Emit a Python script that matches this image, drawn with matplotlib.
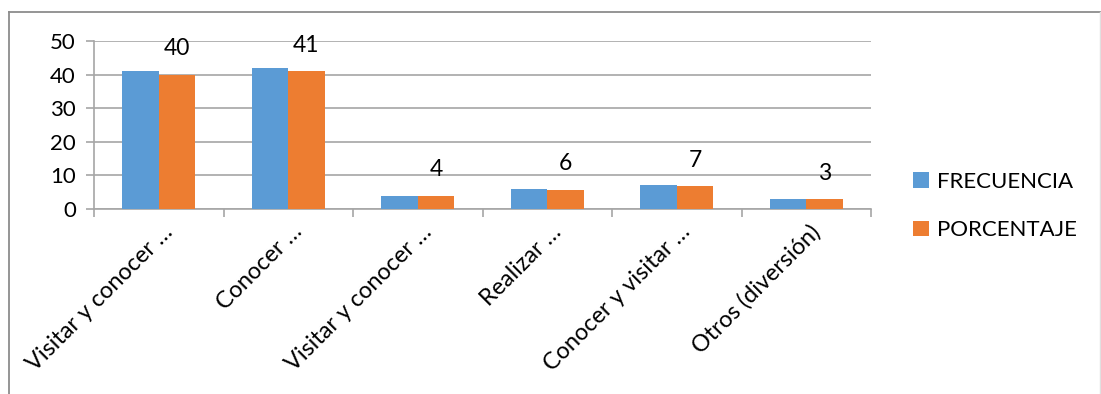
import numpy as np
import matplotlib
matplotlib.use('Agg')
import matplotlib.pyplot as plt
import matplotlib.transforms as mtransforms
from matplotlib.lines import Line2D

plt.rcParams['font.family'] = ['Lato', 'DejaVu Sans']

categories = ['Visitar y conocer …', 'Conocer …', 'Visitar y conocer …',
              'Realizar …', 'Conocer y visitar …', 'Otros (diversión)']
frecuencia = [41, 42, 4, 6, 7, 3]
porcentaje = [40, 41, 4, 5.8, 6.8, 3]
pct_labels = ['40', '41', '4', '6', '7', '3']

BLUE, ORANGE, GRID = '#5b9bd5', '#ed7d31', '#a6a6a6'
FS = 16

fig = plt.figure(figsize=(11.01, 3.94), dpi=100, facecolor='white')
ax = fig.add_axes([94 / 1101, 1 - 209 / 394, (871 - 94) / 1101, (209 - 41) / 394])

x = np.arange(len(categories))
w = 0.28
ax.bar(x - w / 2, frecuencia, w, color=BLUE, label='FRECUENCIA', zorder=3)
b2 = ax.bar(x + w / 2, porcentaje, w, color=ORANGE, label='PORCENTAJE', zorder=3)
for b, t in zip(b2, pct_labels):
    ax.annotate(t, (b.get_x() + b.get_width() / 2, b.get_height()),
                xytext=(0, 11), textcoords='offset points',
                ha='center', va='bottom', fontsize=16.5, color='black')

ax.set_xlim(-0.5, len(categories) - 0.5)
ax.set_ylim(0, 50)
ax.set_yticks(range(0, 51, 10))
ax.yaxis.grid(True, color=GRID, lw=1.2, zorder=0)
ax.set_axisbelow(True)
ax.set_xticks(np.arange(-0.5, len(categories), 1))
ax.set_xticklabels([])

# category labels, rotated 45 deg, baseline end anchored below each group
off = mtransforms.ScaledTranslation(15 / 100, -24 / 100, fig.dpi_scale_trans)
for xi, cat in zip(x, categories):
    ax.text(xi, 0, cat, transform=ax.get_xaxis_transform() + off,
            rotation=45, rotation_mode='anchor', ha='right', va='baseline',
            fontsize=16.8, clip_on=False)

ax.tick_params(axis='x', length=6, color=GRID, width=1.2)
ax.tick_params(axis='y', length=6, color=GRID, width=1.2, labelsize=FS, pad=7)
for s in ['top', 'right']:
    ax.spines[s].set_visible(False)
for s in ['left', 'bottom']:
    ax.spines[s].set_color(GRID)
    ax.spines[s].set_linewidth(1.2)

h, l = ax.get_legend_handles_labels()
fig.legend(h, l, loc='center left', bbox_to_anchor=(893 / 1101, 1 - 206 / 394),
           frameon=False, fontsize=FS, handlelength=0.7, handleheight=0.7,
           handletextpad=0.4, labelspacing=1.3)

# outer chart-area border
fig.add_artist(Line2D([9 / 1101, 1], [1 - 11.5 / 394] * 2, color='#8c8c8c', lw=1.3,
                      transform=fig.transFigure))
fig.add_artist(Line2D([9 / 1101] * 2, [0, 1 - 11.5 / 394], color='#8c8c8c', lw=1.3,
                      transform=fig.transFigure))
fig.add_artist(Line2D([1100 / 1101] * 2, [0, 1 - 11.5 / 394], color='#e0e0e0', lw=1,
                      transform=fig.transFigure))

fig.savefig('out.png', dpi=100, facecolor='white')
